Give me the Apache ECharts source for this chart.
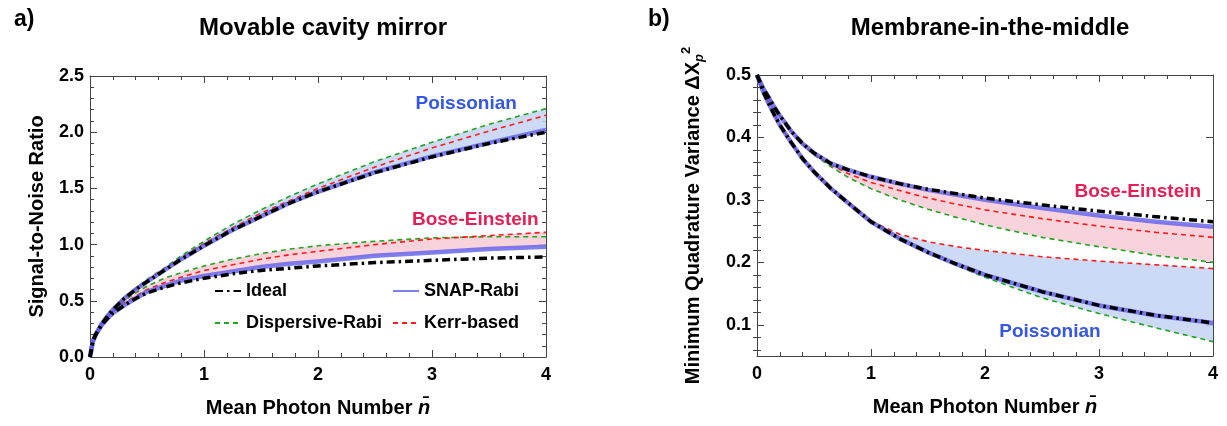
<!DOCTYPE html>
<html>
<head>
<meta charset="utf-8">
<script src="https://cdn.jsdelivr.net/npm/echarts@6/dist/echarts.min.js"></script>
<style>html,body{margin:0;padding:0;background:#fff;}#c{width:1227px;height:426px;}</style>
</head>
<body>
<div id="c"></div>
<script>
// ---- data ----
const nbar = [0, 0.025, 0.05, 0.1, 0.15, 0.2, 0.3, 0.4, 0.5, 0.65, 0.8, 1.0, 1.25, 1.5, 1.75, 2.0, 2.5, 3.0, 3.5, 4.0];

// (a) Movable cavity mirror : Signal-to-Noise Ratio
const snrPoisIdeal = [0, 0.14, 0.2, 0.29, 0.36, 0.42, 0.52, 0.60, 0.67, 0.77, 0.87, 0.99, 1.13, 1.25, 1.37, 1.47, 1.64, 1.78, 1.90, 2.00];
const snrPoisSnap  = [0, 0.14, 0.2, 0.29, 0.36, 0.42, 0.52, 0.60, 0.67, 0.77, 0.87, 0.99, 1.13, 1.25, 1.37, 1.47, 1.645, 1.785, 1.905, 2.02];
const snrPoisDisp  = [0, 0.14, 0.2, 0.30, 0.37, 0.43, 0.53, 0.61, 0.69, 0.79, 0.90, 1.03, 1.18, 1.31, 1.43, 1.54, 1.74, 1.91, 2.07, 2.21];
const snrPoisKerr  = [0, 0.14, 0.2, 0.29, 0.36, 0.42, 0.52, 0.60, 0.68, 0.78, 0.88, 1.01, 1.15, 1.28, 1.39, 1.50, 1.69, 1.86, 2.01, 2.15];
const snrBEIdeal   = [0, 0.14, 0.2, 0.28, 0.34, 0.39, 0.46, 0.52, 0.57, 0.62, 0.66, 0.70, 0.74, 0.77, 0.79, 0.81, 0.84, 0.86, 0.88, 0.89];
const snrBESnap    = [0, 0.14, 0.2, 0.28, 0.34, 0.39, 0.46, 0.52, 0.58, 0.63, 0.68, 0.72, 0.76, 0.80, 0.83, 0.85, 0.90, 0.93, 0.96, 0.98];
const snrBEDisp    = [0, 0.14, 0.2, 0.29, 0.36, 0.41, 0.50, 0.57, 0.63, 0.70, 0.75, 0.81, 0.87, 0.92, 0.96, 0.99, 1.03, 1.06, 1.07, 1.07];
const snrBEKerr    = [0, 0.14, 0.2, 0.28, 0.35, 0.40, 0.48, 0.54, 0.60, 0.66, 0.71, 0.77, 0.82, 0.87, 0.91, 0.94, 1.00, 1.05, 1.08, 1.11];

// (b) Membrane-in-the-middle : Minimum Quadrature Variance
const varBEIdeal   = [0.5, 0.49, 0.48, 0.465, 0.449, 0.435, 0.41, 0.39, 0.375, 0.358, 0.348, 0.337, 0.326, 0.317, 0.310, 0.303, 0.292, 0.282, 0.273, 0.265];
const varBESnap    = [0.5, 0.49, 0.48, 0.465, 0.449, 0.435, 0.41, 0.39, 0.375, 0.358, 0.348, 0.337, 0.326, 0.316, 0.308, 0.300, 0.287, 0.275, 0.265, 0.257];
const varBEKerr    = [0.5, 0.49, 0.48, 0.465, 0.449, 0.435, 0.41, 0.39, 0.374, 0.356, 0.342, 0.328, 0.315, 0.303, 0.293, 0.284, 0.270, 0.258, 0.248, 0.240];
const varBEDisp    = [0.5, 0.49, 0.48, 0.465, 0.449, 0.435, 0.41, 0.389, 0.372, 0.353, 0.336, 0.318, 0.300, 0.285, 0.272, 0.260, 0.240, 0.225, 0.211, 0.200];
const varPoisIdeal = [0.5, 0.488, 0.475, 0.455, 0.437, 0.42, 0.392, 0.366, 0.345, 0.318, 0.295, 0.265, 0.238, 0.216, 0.197, 0.180, 0.153, 0.131, 0.115, 0.103];
const varPoisSnap  = [0.5, 0.488, 0.475, 0.455, 0.437, 0.42, 0.392, 0.366, 0.345, 0.318, 0.295, 0.265, 0.238, 0.216, 0.197, 0.180, 0.153, 0.131, 0.115, 0.103];
const varPoisKerr  = [0.5, 0.488, 0.475, 0.455, 0.437, 0.42, 0.392, 0.366, 0.345, 0.318, 0.295, 0.266, 0.245, 0.233, 0.225, 0.219, 0.209, 0.202, 0.196, 0.190];
const varPoisDisp  = [0.5, 0.488, 0.475, 0.455, 0.437, 0.42, 0.392, 0.366, 0.345, 0.318, 0.295, 0.265, 0.238, 0.215, 0.195, 0.176, 0.143, 0.118, 0.095, 0.073];

// tick values for panel (b) y axis
const yTicksB = [0.1, 0.2, 0.3, 0.4, 0.5];
const yMinorB = [0.06, 0.08, 0.12, 0.14, 0.16, 0.18, 0.22, 0.24, 0.26, 0.28, 0.32, 0.34, 0.36, 0.38, 0.42, 0.44, 0.46, 0.48];

const titles = ['Movable cavity mirror', 'Membrane-in-the-middle'];
const panelTags = ['a)', 'b)'];
const legendNames = ['Ideal', 'SNAP-Rabi', 'Dispersive-Rabi', 'Kerr-based'];
const groupNames = ['Poissonian', 'Bose-Einstein'];

// ---- styles ----
const F = 'Liberation Sans, Arial, Helvetica, sans-serif';
const AX = '#444';
const C = {
  ideal: '#000000', snap: 'rgba(95,95,235,0.8)', disp: '#1fa51f', kerr: '#ff1a1a',
  bandP: 'rgba(196,211,244,0.85)', bandBE: 'rgba(248,203,213,0.85)',
  labP: '#3557e6', labBE: '#e51f55'
};

function pts(ys) { return nbar.map((n, i) => [n, ys[i]]); }

function lineSeries(name, ys, g, kind) {
  const base = { type: 'line', name: name, xAxisIndex: g * 2, yAxisIndex: g * 2,
    data: pts(ys), showSymbol: false, symbol: 'none', smooth: false,
    silent: true, animation: false };
  if (kind === 'ideal') { base.lineStyle = { color: C.ideal, width: 3.5, type: [8, 4, 2.5, 4], cap: 'butt', join: 'round' }; base.itemStyle = { color: C.ideal }; base.z = 5; }
  if (kind === 'snap') { base.lineStyle = { color: C.snap, width: 4.5, join: 'round' }; base.itemStyle = { color: C.snap }; base.z = 4; }
  if (kind === 'disp') { base.lineStyle = { color: C.disp, width: 1.6, type: [5, 4] }; base.itemStyle = { color: C.disp }; base.z = 3; }
  if (kind === 'kerr') { base.lineStyle = { color: C.kerr, width: 1.6, type: [5, 4] }; base.itemStyle = { color: C.kerr }; base.z = 3; }
  return base;
}

function bandSeries(g, arrs, color) {
  const lo = nbar.map((n, i) => Math.min.apply(null, arrs.map(a => a[i])));
  const hi = nbar.map((n, i) => Math.max.apply(null, arrs.map(a => a[i])));
  return {
    type: 'custom', xAxisIndex: g * 2, yAxisIndex: g * 2, silent: true, z: 1, clip: true, animation: false,
    data: nbar.map((n, i) => [n, lo[i], hi[i]]),
    encode: { x: 0, y: [1, 2] },
    renderItem: function (params, api) {
      if (params.dataIndex !== 0) return null;
      const top = [], bot = [];
      for (let i = 0; i < nbar.length; i++) {
        top.push(api.coord([nbar[i], hi[i]]));
        bot.push(api.coord([nbar[i], lo[i]]));
      }
      return { type: 'polygon', shape: { points: top.concat(bot.reverse()) }, style: { fill: color, stroke: null } };
    }
  };
}

function labelSeries(g, x, y, text, color) {
  return { type: 'scatter', xAxisIndex: g * 2, yAxisIndex: g * 2, silent: true, z: 6, animation: false,
    symbolSize: 1, itemStyle: { color: 'rgba(0,0,0,0)', opacity: 1 }, data: [[x, y]],
    label: { show: true, position: 'inside', formatter: text, color: color, opacity: 1, fontSize: 19, fontWeight: 'bold', fontFamily: F } };
}

const tickLbl = { color: '#000', fontSize: 18, fontWeight: 'bold', fontFamily: F };
const lineAx = { show: true, onZero: false, lineStyle: { color: AX, width: 1 } };
function xAxes(g) {
  const common = { type: 'value', gridIndex: g, min: 0, max: 4, interval: 1,
    axisLine: lineAx,
    axisTick: { show: true, inside: true, length: 7, lineStyle: { color: AX } },
    minorTick: { show: true, splitNumber: 5, length: 4, lineStyle: { color: AX } },
    splitLine: { show: false }, minorSplitLine: { show: false } };
  return [
    Object.assign({}, common, { position: 'bottom',
      axisLabel: Object.assign({ show: true, margin: 9, showMinLabel: true, showMaxLabel: true }, tickLbl),
      name: 'Mean Photon Number {it|n\u0304}', nameLocation: 'middle', nameGap: 41,
      nameTextStyle: { color: '#000', fontSize: 20, fontWeight: 'bold', fontFamily: F,
        rich: { it: { fontSize: 20, fontWeight: 'bold', fontStyle: 'italic', fontFamily: F, color: '#000' } } } }),
    Object.assign({}, common, { position: 'top', axisLabel: { show: false } })
  ];
}

const nameStyle = { color: '#000', fontSize: 20, fontWeight: 'bold', fontFamily: F };
// panel (a) y axes: 0 .. 2.5
const yAxesA = (function () {
  const common = { type: 'value', gridIndex: 0, min: 0, max: 2.5, interval: 0.5,
    axisLine: lineAx,
    axisTick: { show: true, inside: true, length: 7, lineStyle: { color: AX } },
    minorTick: { show: true, splitNumber: 5, length: 4, lineStyle: { color: AX } },
    splitLine: { show: false }, minorSplitLine: { show: false } };
  return [
    Object.assign({}, common, { position: 'left',
      axisLabel: Object.assign({ show: true, margin: 6, showMinLabel: true, showMaxLabel: true,
        formatter: function (v) { return v.toFixed(1); } }, tickLbl),
      name: 'Signal-to-Noise Ratio', nameLocation: 'middle', nameGap: 43, nameTextStyle: nameStyle }),
    Object.assign({}, common, { position: 'right', axisLabel: { show: false } })
  ];
})();

// panel (b) y axes: 0.05 .. 0.5, ticks placed at given values
const richY = {
  a: { fontSize: 20, fontWeight: 'bold', fontFamily: F, color: '#000', lineHeight: 26 },
  sub: { fontSize: 13, fontWeight: 'bold', fontStyle: 'italic', fontFamily: F, color: '#000', verticalAlign: 'bottom', lineHeight: 14 },
  sup: { fontSize: 13, fontWeight: 'bold', fontFamily: F, color: '#000', verticalAlign: 'top', lineHeight: 14 }
};
const yAxesB = (function () {
  const common = { type: 'value', gridIndex: 1, min: 0.05, max: 0.5, interval: 0.01,
    splitLine: { show: false }, minorTick: { show: false }, minorSplitLine: { show: false } };
  return [
    Object.assign({}, common, { position: 'left', axisLine: lineAx,
      axisTick: { show: true, inside: true, length: 7, lineStyle: { color: AX }, customValues: yTicksB },
      axisLabel: Object.assign({ show: true, margin: 6, customValues: yTicksB,
        formatter: function (v) { return v.toFixed(1); } }, tickLbl),
      name: '{a|Minimum Quadrature Variance \u0394X}{sub|p}{sup|2}', nameLocation: 'middle', nameGap: 51,
      nameTextStyle: Object.assign({ rich: richY }, nameStyle) }),
    Object.assign({}, common, { position: 'right', axisLine: lineAx,
      axisTick: { show: true, inside: true, length: 7, lineStyle: { color: AX }, customValues: yTicksB },
      axisLabel: { show: false } }),
    Object.assign({}, common, { position: 'left', axisLine: { show: false },
      axisTick: { show: true, inside: true, length: 4, lineStyle: { color: AX }, customValues: yMinorB },
      axisLabel: { show: false } }),
    Object.assign({}, common, { position: 'right', axisLine: { show: false },
      axisTick: { show: true, inside: true, length: 4, lineStyle: { color: AX }, customValues: yMinorB },
      axisLabel: { show: false } })
  ];
})();

const legendText = { fontSize: 18, fontWeight: 'bold', fontFamily: F, color: '#000' };
const hiddenSym = { color: 'rgba(0,0,0,0)', borderColor: 'rgba(0,0,0,0)', borderWidth: 0 };
const titleStyle = { fontSize: 24, fontWeight: 'bold', fontFamily: F, color: '#000' };

const option = {
  animation: false,
  backgroundColor: '#fff',
  title: [
    { text: panelTags[0], left: 9, top: 3, textStyle: { fontSize: 23, fontWeight: 'bold', fontFamily: F, color: '#000' } },
    { text: titles[0], left: 318, top: 11, textAlign: 'center', textStyle: titleStyle },
    { text: panelTags[1], left: 643, top: 3, textStyle: { fontSize: 23, fontWeight: 'bold', fontFamily: F, color: '#000' } },
    { text: titles[1], left: 985, top: 11, textAlign: 'center', textStyle: titleStyle }
  ],
  grid: [
    { left: 90, top: 76, width: 456, height: 281, outerBoundsMode: 'none' },
    { left: 757, top: 75, width: 456, height: 281, outerBoundsMode: 'none' }
  ],
  legend: [
    { data: [legendNames[0], legendNames[2]], orient: 'vertical', left: 209, top: 277, itemGap: 14,
      itemWidth: 26, itemHeight: 14, textStyle: legendText, selectedMode: false, itemStyle: hiddenSym },
    { data: [legendNames[1], legendNames[3]], orient: 'vertical', left: 387, top: 277, itemGap: 14,
      itemWidth: 26, itemHeight: 14, textStyle: legendText, selectedMode: false, itemStyle: hiddenSym }
  ],
  xAxis: [].concat(xAxes(0), xAxes(1)),
  yAxis: [].concat(yAxesA, yAxesB),
  series: [
    bandSeries(0, [snrPoisSnap, snrPoisDisp, snrPoisKerr], C.bandP),
    bandSeries(0, [snrBESnap, snrBEDisp, snrBEKerr], C.bandBE),
    lineSeries(legendNames[2], snrPoisDisp, 0, 'disp'),
    lineSeries(legendNames[3], snrPoisKerr, 0, 'kerr'),
    lineSeries(legendNames[1], snrPoisSnap, 0, 'snap'),
    lineSeries(legendNames[0], snrPoisIdeal, 0, 'ideal'),
    lineSeries(legendNames[2], snrBEDisp, 0, 'disp'),
    lineSeries(legendNames[3], snrBEKerr, 0, 'kerr'),
    lineSeries(legendNames[1], snrBESnap, 0, 'snap'),
    lineSeries(legendNames[0], snrBEIdeal, 0, 'ideal'),
    labelSeries(0, 3.3, 2.25, groupNames[0], C.labP),
    labelSeries(0, 3.38, 1.22, groupNames[1], C.labBE),

    bandSeries(1, [varBESnap, varBEDisp, varBEKerr], C.bandBE),
    bandSeries(1, [varPoisSnap, varPoisDisp, varPoisKerr], C.bandP),
    lineSeries(legendNames[2], varBEDisp, 1, 'disp'),
    lineSeries(legendNames[3], varBEKerr, 1, 'kerr'),
    lineSeries(legendNames[1], varBESnap, 1, 'snap'),
    lineSeries(legendNames[0], varBEIdeal, 1, 'ideal'),
    lineSeries(legendNames[2], varPoisDisp, 1, 'disp'),
    lineSeries(legendNames[3], varPoisKerr, 1, 'kerr'),
    lineSeries(legendNames[1], varPoisSnap, 1, 'snap'),
    lineSeries(legendNames[0], varPoisIdeal, 1, 'ideal'),
    labelSeries(1, 3.34, 0.313, groupNames[1], C.labBE),
    labelSeries(1, 2.57, 0.089, groupNames[0], C.labP)
  ]
};

const chart = echarts.init(document.getElementById('c'), null, { renderer: 'canvas' });
chart.setOption(option);
</script>
</body>
</html>
